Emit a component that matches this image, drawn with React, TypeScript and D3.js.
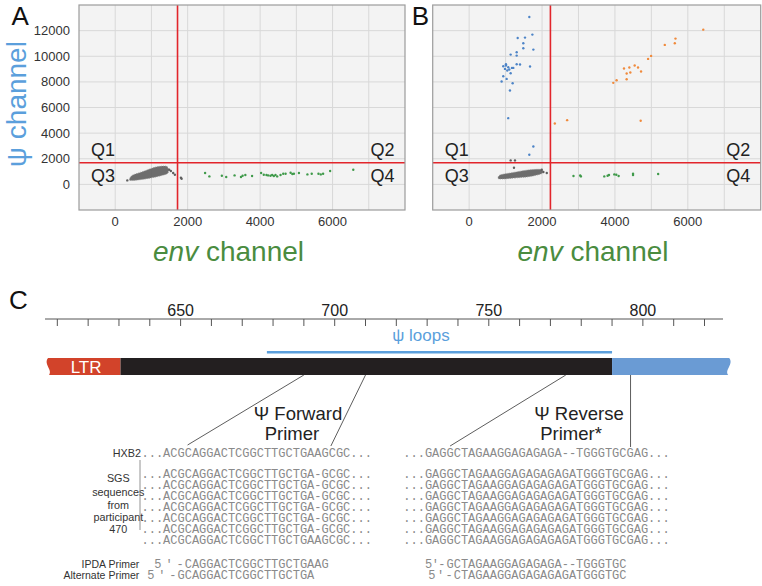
import { useEffect, useRef } from "react";
import * as d3 from "d3";

const FONT = "'Liberation Sans', Arial, sans-serif";
const MONO = "'Liberation Mono', 'DejaVu Sans Mono', monospace";

// ---- panels A / B : env channel (x) vs psi channel (y) ----
const xTicks = [0, 2000, 4000, 6000];
const yTicks = [0, 2000, 4000, 6000, 8000, 10000, 12000];
const xGridLines = [0, 1000, 2000, 3000, 4000, 5000, 6000, 7000];
const yGridLines = [0, 2000, 4000, 6000, 8000, 10000, 12000];
const gateA = [1720, 1690];
const gateB = [2230, 1690];

// double negative droplets, dense core (outline of the cloud)
const clusterA = [
  [409, 304], [823, 422], [1237, 656], [1458, 890],
  [1430, 1397], [1126, 1358], [768, 1007], [464, 695],
];
const clusterB = [
  [820, 422], [1259, 500], [1671, 617], [2000, 851],
  [1973, 1163], [1616, 1124], [1205, 929], [848, 734],
];
const grayA = [
  [333, 312], [1489, 1143], [1536, 1039], [1600, 883], [1647, 753], [1814, 519], [1833, 441],
];
const grayB = [
  [1139, 1870], [1258, 1870], [1230, 1299], [1993, 1143], [2037, 961], [2130, 883],
];
const greenA = [
  [2481, 883], [2600, 623], [2944, 675], [3064, 571], [3295, 701], [3472, 571],
  [3517, 675], [3592, 727], [3778, 649], [4028, 883], [4101, 753], [4175, 727],
  [4222, 701], [4286, 675], [4333, 727], [4379, 649], [4425, 727], [4472, 623],
  [4564, 727], [4638, 831], [4703, 831], [4842, 909], [4889, 805], [4933, 831],
  [5072, 883], [5306, 779], [5425, 831], [5611, 831], [5675, 779], [5739, 831],
  [5933, 1039], [6572, 1143],
];
const greenB = [
  [2863, 649], [3066, 623], [3047, 701], [3708, 623], [3799, 675], [3837, 727],
  [3983, 779], [4038, 753], [4102, 649], [4497, 727], [4497, 831], [5186, 805],
];
const blueB = [
  [1651, 13066], [1332, 11429], [1533, 11455], [1735, 11689], [1486, 11013],
  [1486, 10623], [1762, 10520], [1139, 10130], [1304, 10312], [1304, 10052],
  [936, 9221], [1010, 9377], [1010, 9273], [1073, 9143], [1101, 8961],
  [1175, 9091], [1211, 9091], [1304, 9377], [1396, 9351], [1671, 9195],
  [983, 9013], [1046, 8883], [1139, 8675], [936, 8442], [1029, 8234],
  [891, 8026], [1194, 7896], [1120, 7325], [1073, 5169], [1762, 2961], [1651, 2312],
];
const orangeB = [
  [6424, 12078], [5662, 11377], [5643, 11013], [5368, 10884], [4993, 10026],
  [4910, 9792], [4542, 9273], [4634, 9117], [4396, 9117], [4249, 9039],
  [4717, 8805], [4423, 8727], [4322, 8649], [4322, 8208], [4046, 8130],
  [3955, 7922], [2689, 5013], [2351, 4753], [4707, 4961],
];

// ---- panel C : HXB2 map ----
const rulerTicks = d3.range(610, 821, 10);
const rulerLabels = [650, 700, 750, 800];
const ltrRange = [607, 630.5];
const leaderRange = [630.5, 790];
const gagRange = [790, 828];
const psiLoops = [678, 790];
const fwdPrimer = [690, 710];
const revPrimer = [775, 796];

const hxb2Fwd = "...ACGCAGGACTCGGCTTGCTGAAGCGC...";
const hxb2Rev = "...GAGGCTAGAAGGAGAGAGA--TGGGTGCGAG...";
const sgsFwd = [
  "...ACGCAGGACTCGGCTTGCTGA-GCGC...",
  "...ACGCAGGACTCGGCTTGCTGA-GCGC...",
  "...ACGCAGGACTCGGCTTGCTGA-GCGC...",
  "...ACGCAGGACTCGGCTTGCTGA-GCGC...",
  "...ACGCAGGACTCGGCTTGCTGA-GCGC...",
  "...ACGCAGGACTCGGCTTGCTGA-GCGC...",
  "...ACGCAGGACTCGGCTTGCTGAAGCGC...",
];
const sgsRev = [
  "...GAGGCTAGAAGGAGAGAGAGATGGGTGCGAG...",
  "...GAGGCTAGAAGGAGAGAGAGATGGGTGCGAG...",
  "...GAGGCTAGAAGGAGAGAGAGATGGGTGCGAG...",
  "...GAGGCTAGAAGGAGAGAGAGATGGGTGCGAG...",
  "...GAGGCTAGAAGGAGAGAGAGATGGGTGCGAG...",
  "...GAGGCTAGAAGGAGAGAGAGATGGGTGCGAG...",
  "...GAGGCTAGAAGGAGAGAGAGATGGGTGCGAG...",
];
const primerLabels = ["IPDA Primer", "Alternate Primer"];
const primersFwd = ["CAGGACTCGGCTTGCTGAAG", "GCAGGACTCGGCTTGCTGA"];
const primersFwdCol = [6, 5];
const primersRev = ["GCTAGAAGGAGAGAGA--TGGGTGC", "CTAGAAGGAGAGAGAGATGGGTGC"];
const primersRevCol = [6, 7];
const sgsLabel = ["SGS", "sequences", "from", "participant", "470"];

const colors = {
  gray: "#5f5f5f",
  green: "#3f9a4a",
  blue: "#4d84c7",
  orange: "#f08a3c",
  gate: "#e2252b",
  psi: "#5b9fdc",
  env: "#4a8c3f",
  ltr: "#d2432a",
  leader: "#231f20",
  gag: "#6a9bd4",
};

function drawScatter(svg: any, p: any) {
  const x = d3.scaleLinear().domain([-1000, 8000]).range([p.x0, p.x1]);
  const y = d3.scaleLinear().domain([-2000, 14000]).range([210, 5]);
  const g = svg.append("g");

  g.append("rect")
    .attr("x", p.x0).attr("y", 5)
    .attr("width", p.x1 - p.x0).attr("height", 205)
    .attr("fill", "#f3f3f3");

  g.selectAll(".vg").data(xGridLines).join("line")
    .attr("x1", (d) => x(d)).attr("x2", (d) => x(d))
    .attr("y1", 5).attr("y2", 210)
    .attr("stroke", "#d8d8d8").attr("stroke-width", 1);
  g.selectAll(".hg").data(yGridLines).join("line")
    .attr("y1", (d) => y(d)).attr("y2", (d) => y(d))
    .attr("x1", p.x0).attr("x2", p.x1)
    .attr("stroke", "#d8d8d8").attr("stroke-width", 1);

  // dense cloud
  const cloud = d3.line()
    .x((d: any) => x(d[0]))
    .y((d: any) => y(d[1]))
    .curve(d3.curveCardinalClosed.tension(0.2));
  g.append("path").attr("d", cloud(p.cluster))
    .attr("fill", colors.gray).attr("opacity", 0.9)
    .attr("stroke", "#8a8a8a").attr("stroke-width", 0.8).attr("stroke-dasharray", "1 1");

  p.series.forEach((s: any) => {
    g.append("g").selectAll("circle").data(s.data).join("circle")
      .attr("cx", (d) => x(d[0])).attr("cy", (d) => y(d[1]))
      .attr("r", 1.2).attr("fill", s.color);
  });

  // gates
  g.append("line")
    .attr("x1", x(p.gate[0])).attr("x2", x(p.gate[0]))
    .attr("y1", 5).attr("y2", 210)
    .attr("stroke", colors.gate).attr("stroke-width", 1.6);
  g.append("line")
    .attr("x1", p.x0).attr("x2", p.x1)
    .attr("y1", y(p.gate[1])).attr("y2", y(p.gate[1]))
    .attr("stroke", colors.gate).attr("stroke-width", 1.6);

  g.append("rect")
    .attr("x", p.x0).attr("y", 5)
    .attr("width", p.x1 - p.x0).attr("height", 205)
    .attr("fill", "none").attr("stroke", "#9c9c9c").attr("stroke-width", 1.2);

  // quadrant labels
  const q = (t: string, xx: number, yy: number, anchor: string) =>
    g.append("text").attr("x", xx).attr("y", yy).attr("text-anchor", anchor)
      .style("font-family", FONT).style("font-size", "18px").style("fill", "#222").text(t);
  q("Q1", p.x0 + 12, 155.7, "start");
  q("Q3", p.x0 + 12, 182.3, "start");
  q("Q2", p.x1 - 10.5, 155.7, "end");
  q("Q4", p.x1 - 10.5, 182.3, "end");

  // axes labels
  g.selectAll(".xt").data(xTicks).join("text")
    .attr("x", (d) => x(d)).attr("y", 225.5).attr("text-anchor", "middle")
    .style("font-family", FONT).style("font-size", "13px").style("fill", "#333")
    .text((d) => d);
  if (p.yLabels) {
    g.selectAll(".yt").data(yTicks).join("text")
      .attr("x", p.x0 - 9).attr("y", (d) => y(d) + 4.6).attr("text-anchor", "end")
      .style("font-family", FONT).style("font-size", "13px").style("fill", "#333")
      .text((d) => d);
  }

  const env = g.append("text")
    .attr("x", p.labelX).attr("y", 261).attr("text-anchor", "middle")
    .style("font-family", FONT).style("font-size", "28px").style("fill", colors.env);
  env.append("tspan").style("font-style", "italic").text("env");
  env.append("tspan").text(" channel");

  g.append("text").attr("x", p.letterX).attr("y", 25)
    .style("font-family", FONT).style("font-size", "26px").style("fill", "#111")
    .text(p.letter);
}

function drawMap(svg: any) {
  const gx = d3.scaleLinear().domain([606, 826]).range([45, 723]);
  const g = svg.append("g");
  const txt = (t: string, xx: number, yy: number, size: number, anchor = "middle", fill = "#222", fam = FONT) =>
    g.append("text").attr("x", xx).attr("y", yy).attr("text-anchor", anchor)
      .style("font-family", fam).style("font-size", size + "px").style("fill", fill).text(t);

  txt("C", 9, 309, 26, "start", "#111");

  // ruler
  g.append("line").attr("x1", gx(606)).attr("x2", gx(826)).attr("y1", 319).attr("y2", 319)
    .attr("stroke", "#555").attr("stroke-width", 1);
  g.selectAll(".rt").data(rulerTicks).join("line")
    .attr("x1", (d) => gx(d)).attr("x2", (d) => gx(d))
    .attr("y1", 319).attr("y2", 326).attr("stroke", "#555").attr("stroke-width", 1);
  g.selectAll(".rl").data(rulerLabels).join("text")
    .attr("x", (d) => gx(d)).attr("y", 316).attr("text-anchor", "middle")
    .style("font-family", FONT).style("font-size", "16px").style("fill", "#222")
    .text((d) => d);

  // psi loops
  g.append("line").attr("x1", gx(psiLoops[0])).attr("x2", gx(psiLoops[1]))
    .attr("y1", 352.3).attr("y2", 352.3).attr("stroke", colors.psi).attr("stroke-width", 2.6);
  txt("\u03c8 loops", gx(728), 341, 17, "middle", colors.psi);

  // genome bar with torn ends
  const y0 = 358, y1 = 375;
  const a = gx(ltrRange[0]), b = gx(ltrRange[1]);
  g.append("path")
    .attr("d", `M${a},${y0} L${b},${y0} L${b},${y1} L${a + 1},${y1} C${a + 5},${y1 - 5} ${a - 5},${y0 + 6} ${a},${y0} Z`)
    .attr("fill", colors.ltr);
  g.append("rect").attr("x", gx(leaderRange[0])).attr("y", y0)
    .attr("width", gx(leaderRange[1]) - gx(leaderRange[0])).attr("height", y1 - y0)
    .attr("fill", colors.leader);
  const c = gx(gagRange[0]), e = gx(gagRange[1]);
  g.append("path")
    .attr("d", `M${c},${y0} L${e},${y0} C${e + 5},${y0 + 6} ${e - 5},${y1 - 5} ${e - 1},${y1} L${c},${y1} Z`)
    .attr("fill", colors.gag);
  txt("LTR", gx(ltrRange[0]) + 38, 372.7, 17, "middle", "#fff");

  // sequences, fixed 7.2px columns
  const fx = 141.5, rx = 403.3, cw = 7.2;
  const seq = (t: string, xx: number, yy: number) =>
    txt(t, xx, yy, 12, "start", "#8a8a8a", MONO)
      .attr("textLength", t.length * cw).attr("lengthAdjust", "spacingAndGlyphs");
  seq(hxb2Fwd, fx, 456.7);
  seq(hxb2Rev, rx, 456.7);
  sgsFwd.forEach((s, i) => seq(s, fx, 477.5 + 11 * i));
  sgsRev.forEach((s, i) => seq(s, rx, 477.5 + 11 * i));

  const primer = (t: string, base: number, col: number, yy: number, prefixStart: number) => {
    const sx = base + col * cw;
    seq(t, sx, yy);
    txt("5\u2032-", prefixStart, yy, 12, "start", "#8a8a8a", MONO)
      .attr("textLength", sx - prefixStart - 1).attr("lengthAdjust", "spacing");
  };
  primer(primersFwd[0], fx, primersFwdCol[0], 567.5, 154.3);
  primer(primersFwd[1], fx, primersFwdCol[1], 579, 147.3);
  primer(primersRev[0], rx, primersRevCol[0], 567.5, 425);
  primer(primersRev[1], rx, primersRevCol[1], 579, 428.3);

  txt("HXB2", 141, 456.7, 10.8, "end", "#333");
  sgsLabel.forEach((s, i) => txt(s, 118.3, [482, 496, 508.5, 520.5, 532.5][i], 10.8, "middle", "#333"));
  primerLabels.forEach((s, i) => txt(s, 139.3, [567.5, 579][i], 10.5, "end", "#333"));
  g.append("line").attr("x1", 140).attr("x2", 140).attr("y1", 460).attr("y2", 530)
    .attr("stroke", "#777").attr("stroke-width", 0.8);

  // primer leader lines
  const leader = (top: number, bx: number, by: number) =>
    g.append("line").attr("x1", gx(top)).attr("y1", y1).attr("x2", bx).attr("y2", by)
      .attr("stroke", "#333").attr("stroke-width", 0.8);
  leader(fwdPrimer[0], fx + cw * 6.4, 445);
  leader(fwdPrimer[1], fx + cw * 26.3, 446);
  leader(revPrimer[0], rx + cw * 6.5, 446);
  leader(revPrimer[1], gx(revPrimer[1]), 447);

  txt("\u03a8 Forward", 298, 420, 18.5);
  txt("Primer", 292, 440, 18.5);
  txt("\u03a8 Reverse", 579, 420, 18.5);
  txt("Primer*", 571, 440, 18.5);
}

export default function App() {
  const ref = useRef<SVGSVGElement>(null);

  useEffect(() => {
    const svg = d3.select(ref.current);
    svg.selectAll("*").remove();

    drawScatter(svg, {
      x0: 79, x1: 405, gate: gateA, cluster: clusterA, yLabels: true,
      letter: "A", letterX: 11.5, labelX: 228.5,
      series: [
        { data: grayA, color: colors.gray },
        { data: greenA, color: colors.green },
      ],
    });
    drawScatter(svg, {
      x0: 432.7, x1: 760.7, gate: gateB, cluster: clusterB, yLabels: false,
      letter: "B", letterX: 411.7, labelX: 593,
      series: [
        { data: grayB, color: colors.gray },
        { data: greenB, color: colors.green },
        { data: blueB, color: colors.blue },
        { data: orangeB, color: colors.orange },
      ],
    });

    svg.append("text")
      .attr("transform", "translate(25.5,104) rotate(-90)")
      .attr("text-anchor", "middle")
      .style("font-family", FONT).style("font-size", "28px").style("fill", colors.psi)
      .text("\u03c8 channel");

    drawMap(svg);
  }, []);

  return (
    <svg
      ref={ref}
      width={762}
      height={586}
      style={{ position: "absolute", left: 0, top: 0, background: "#fff" }}
    />
  );
}
